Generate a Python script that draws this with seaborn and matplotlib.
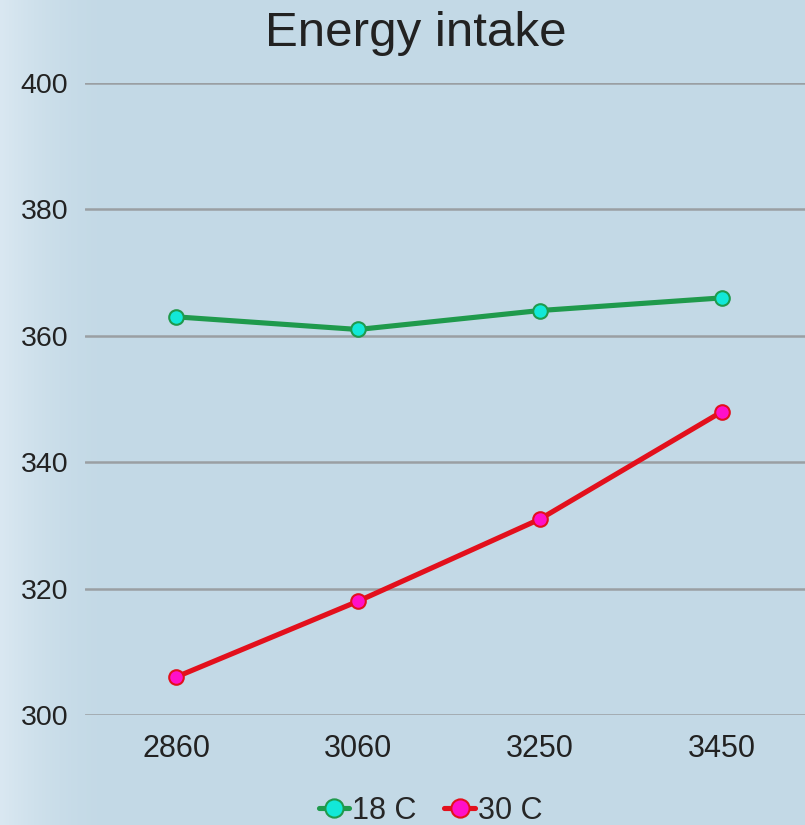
import numpy as np
import pandas as pd
import matplotlib
matplotlib.use("Agg")
import matplotlib.pyplot as plt
import seaborn as sns

categories = ["2860", "3060", "3250", "3450"]
series_18 = [363, 361, 364, 366]
series_30 = [306, 318, 331, 348]
y_ticks = [300, 320, 340, 360, 380, 400]

sns.set_theme(style="white")
plt.rcParams["font.family"] = ["Liberation Sans", "DejaVu Sans"]

fig = plt.figure(figsize=(8.05, 8.25), dpi=100)

# soft blue backdrop, lighter toward the left edge
bg = fig.add_axes([0, 0, 1, 1], zorder=-10)
xs = np.linspace(0, 1, 400)
ys = np.linspace(0, 1, 400)
X, Y = np.meshgrid(xs, ys)
base = np.array([0.765, 0.851, 0.902])
light = np.array([0.87, 0.92, 0.955])
w = np.clip(1 - X / 0.15, 0, 1) ** 2 * 0.85
img = base[None, None, :] * (1 - w[..., None]) + light[None, None, :] * w[..., None]
bg.imshow(img, extent=[0, 1, 0, 1], aspect="auto", origin="lower")
bg.set_axis_off()

ax = fig.add_axes([85 / 805, 1 - 715 / 825, 728 / 805, (715 - 83) / 825])
ax.set_facecolor("none")

df18 = pd.DataFrame({"x": categories, "y": series_18})
df30 = pd.DataFrame({"x": categories, "y": series_30})

sns.lineplot(data=df18, x="x", y="y", ax=ax, color="#1f9a4c", linewidth=3.7,
             marker="o", markersize=10.5, markerfacecolor="#12e8d8",
             markeredgecolor="#1f9a4c", markeredgewidth=1.5, label="18 C")
sns.lineplot(data=df30, x="x", y="y", ax=ax, color="#e3101c", linewidth=3.7,
             marker="o", markersize=10.5, markerfacecolor="#ff10c8",
             markeredgecolor="#e3101c", markeredgewidth=1.5, label="30 C")

ax.set_xlim(-0.5, 3.5)
ax.set_ylim(300, 400)
ax.set_yticks(y_ticks)
ax.yaxis.grid(True, color="#9a9fa3", linewidth=1.8)
ax.xaxis.grid(False)
for s in ax.spines.values():
    s.set_visible(False)
ax.set_xlabel("")
ax.set_ylabel("")
ax.tick_params(axis="both", length=0, colors="#222222")
ax.tick_params(axis="y", pad=12, labelsize=20.5)
ax.tick_params(axis="x", pad=14, labelsize=22)

fig.text(416 / 805, 1 - 34 / 825, "Energy intake", ha="center", va="center",
         fontsize=35.5, color="#222222")

ax.legend(loc="center", bbox_to_anchor=(0.535, 14 / 825), bbox_transform=fig.transFigure,
          ncol=2, frameon=False, fontsize=22, handlelength=1.0, handletextpad=0.1,
          columnspacing=0.9, markerscale=1.25)

fig.savefig("out.png", dpi=100)
